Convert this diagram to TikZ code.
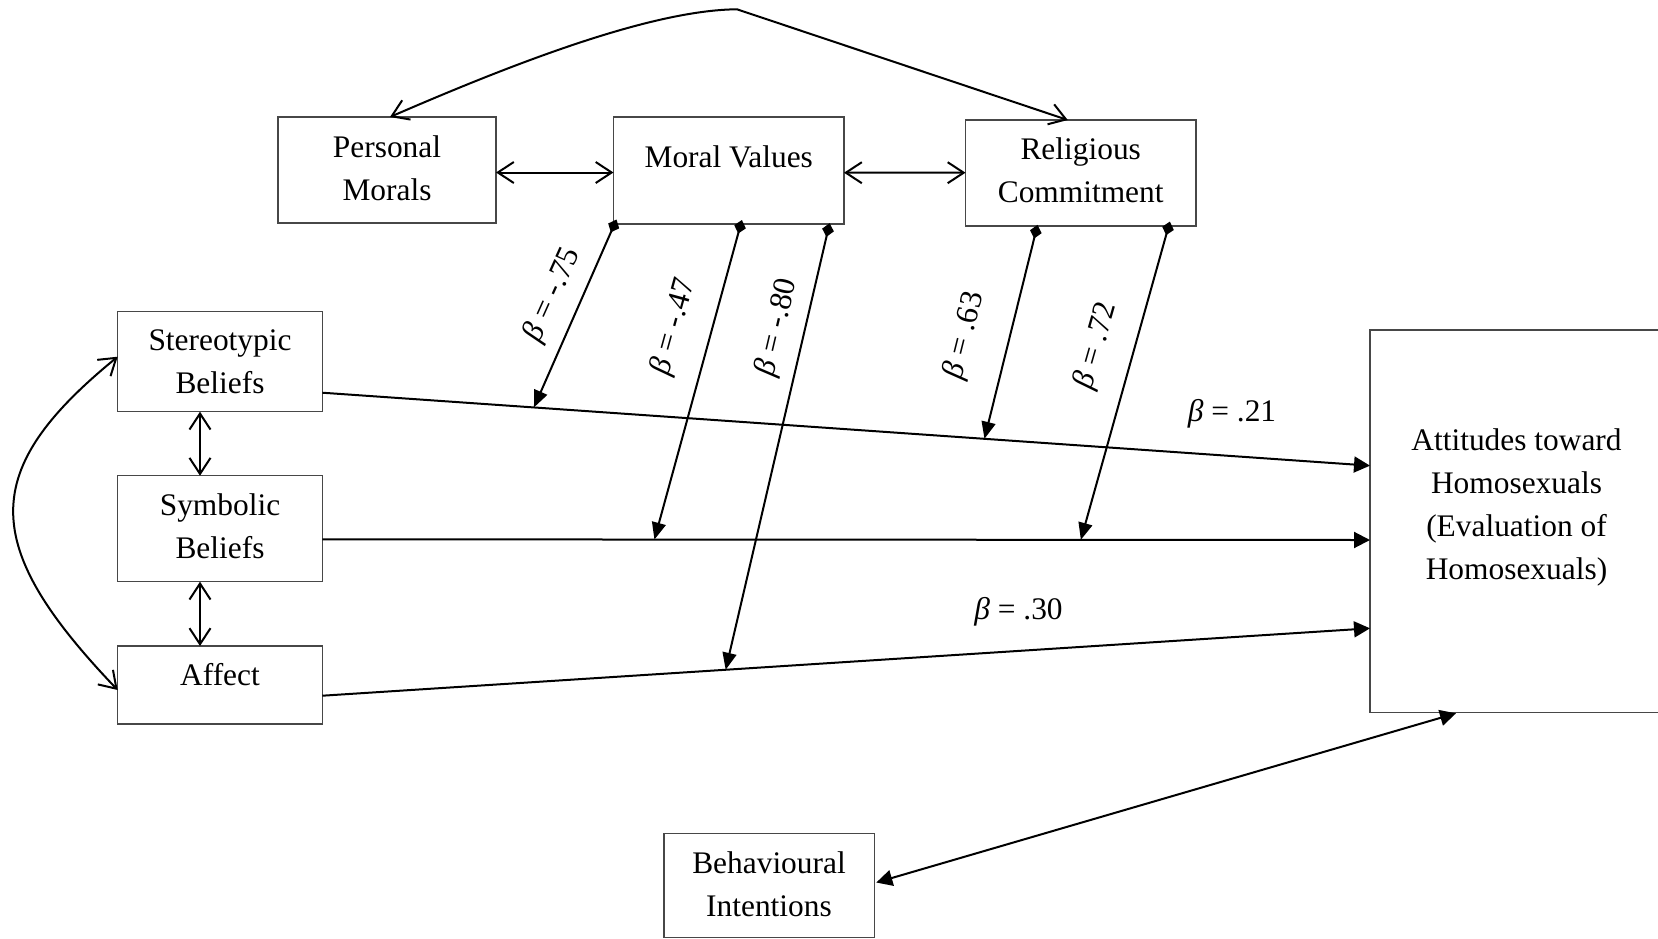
\documentclass[tikz,border=0pt]{standalone}
\usepackage{fontspec}
\setmainfont{Liberation Serif}
\usetikzlibrary{arrows.meta,calc}
\begin{document}
\begin{tikzpicture}[x=0.5pt,y=-0.5pt,
  box/.style={draw=black!72, line width=0.75pt, rectangle, inner sep=0pt, outer sep=0pt},
  txt/.style={align=center, inner sep=0pt, font=\fontsize{15.7pt}{21.5pt}\selectfont},
  coef/.style={inner sep=0pt, font=\fontsize{15.7pt}{18pt}\selectfont},
  link/.style={line width=1pt, draw=black},
  corr/.style={link, {Straight Barb[length=8pt,width=10.5pt]}-{Straight Barb[length=8pt,width=10.5pt]}},
  effect/.style={link, -{Triangle[length=8pt,width=8pt]}},
  effect2/.style={link, {Triangle[length=8pt,width=8pt]}-{Triangle[length=8pt,width=8pt]}},
  moder/.style={link, {Diamond[length=7pt,width=6pt]}-{Triangle[length=8.5pt,width=7pt]}},
]
\useasboundingbox (0,0) rectangle (1658,938);

% boxes
\node[box, minimum width=109pt,   minimum height=53pt]    (pm)  at (387,170) {};
\node[box, minimum width=115.25pt,minimum height=53.5pt]  (mv)  at (728.75,170.5) {};
\node[box, minimum width=115.25pt,minimum height=53pt]    (rc)  at (1080.75,173) {};
\node[box, minimum width=102.3pt, minimum height=50pt]    (sb)  at (220,361.7) {};
\node[box, minimum width=102.3pt, minimum height=53pt]    (sy)  at (220,528.7) {};
\node[box, minimum width=102.3pt, minimum height=39pt]    (af)  at (220,685) {};
\node[box, minimum width=150pt,   minimum height=191.15pt](att) at (1520,521.15) {};
\node[box, minimum width=105.15pt,minimum height=51.8pt]  (bi)  at (769.15,885.5) {};

% box texts
\node[txt] (pm-t)  at (387,168.5)   {Personal\\Morals};
\node[txt] (mv-t)  at (728.75,156.5){Moral Values};
\node[txt] (rc-t)  at (1080.7,170)  {Religious\\Commitment};
\node[txt] (sb-t)  at (220,362)     {Stereotypic\\Beliefs};
\node[txt] (sy-t)  at (220,526)     {Symbolic\\Beliefs};
\node[txt] (af-t)  at (220,674.6)   {Affect};
\node[txt] (att-t) at (1516.5,507)  {Attitudes toward\\Homosexuals\\(Evaluation of\\Homosexuals)};
\node[txt] (bi-t)  at (769,884.5)   {Behavioural\\Intentions};

% correlations among the value measures
\coordinate (peak) at (737,9.3);
\draw[corr] ($(pm.north)+(3,0)$) .. controls (510,65) and (650,10) .. (peak) -- ($(rc.north)+(-13,0)$);
\draw[corr] ($(pm.east)+(0,2.5)$) -- ($(mv.west)+(0,2)$);
\draw[corr] ($(mv.east)+(0,2.2)$) -- ($(rc.west)+(0,-0.3)$);

% correlations among the predictors
\draw[corr] ($(sb.south)+(-20,0)$) -- ($(sy.north)+(-20,0)$);
\draw[corr] ($(sy.south)+(-20,0)$) -- ($(af.north)+(-20,0)$);
\draw[corr] ($(sb.west)+(0,-5)$) .. controls (-21,470) and (-21,545) .. ($(af.west)+(0,5)$);

% direct effects on attitudes
\coordinate (sb-out) at ($(sb.east)+(0,31)$);
\coordinate (sy-out) at ($(sy.east)+(0,10.6)$);
\coordinate (af-out) at ($(af.east)+(0,10.7)$);
\coordinate (att-in1) at ($(att.west)+(0,-55.5)$);
\coordinate (att-in2) at ($(att.west)+(0,18.85)$);
\coordinate (att-in3) at ($(att.west)+(0,107.15)$);
\draw[effect] (sb-out) -- (att-in1) coordinate[pos=0.202] (m1) coordinate[pos=0.632] (m4);
\draw[effect] (sy-out) -- (att-in2) coordinate[pos=0.317] (m2) coordinate[pos=0.724] (m5);
\draw[effect] (af-out) -- (att-in3) coordinate[pos=0.385] (m3);

% moderating paths
\draw[moder] ($(mv.south west)+(3,-4.5)$)     -- (m1);
\draw[moder] ($(mv.south west)+(128.4,-4)$)   -- (m2);
\draw[moder] ($(mv.south west)+(216.1,-0.8)$) -- (m3);
\draw[moder] ($(rc.south west)+(72,-1.1)$)    -- (m4);
\draw[moder] ($(rc.south west)+(204.4,-4.4)$) -- (m5);

% behavioural intentions
\draw[effect2] ($(bi.east)+(2,-3)$) -- ($(att.south west)+(86,1)$);

% coefficients
\node[coef, rotate=65.8] (c1) at (553,295)    {{\itshape β} = -.75};
\node[coef, rotate=74.6] (c2) at (674.3,326.7){{\itshape β} = -.47};
\node[coef, rotate=76.8] (c3) at (777.5,327.5){{\itshape β} = -.80};
\node[coef, rotate=76]   (c4) at (965,335.5)  {{\itshape β} = .63};
\node[coef, rotate=74]   (c5) at (1096.5,345.8){{\itshape β} = .72};
\node[coef] (c6) at (1232,413.4) {{\itshape β} = .21};
\node[coef] (c7) at (1018.5,612) {{\itshape β} = .30};
\end{tikzpicture}
\end{document}
